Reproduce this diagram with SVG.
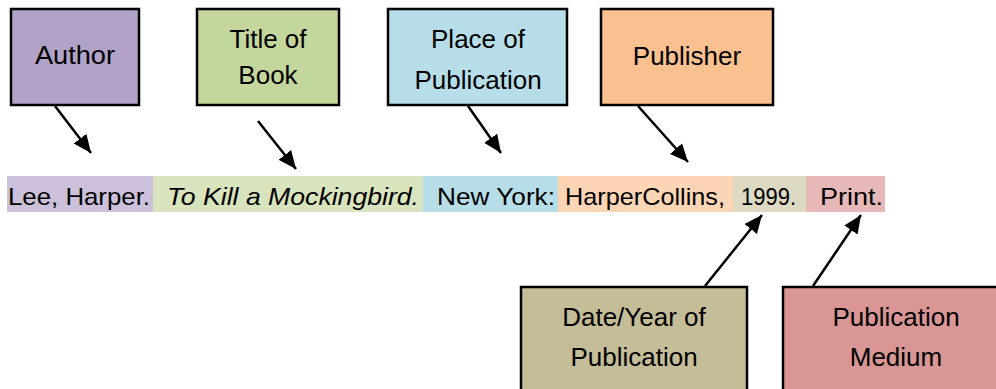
<svg xmlns="http://www.w3.org/2000/svg" width="996" height="389" viewBox="0 0 996 389">
<style>
.box{stroke:#000;stroke-width:2.5}
.lbl{font-family:"Liberation Sans",Arial,sans-serif;font-size:26px;fill:#000;text-anchor:middle}
.band{font-family:"Liberation Sans",Arial,sans-serif;font-size:24px;fill:#000}
.conn line{stroke:#000;stroke-width:2.5;marker-end:url(#ah)}
</style>
<defs>
<marker id="ah" markerUnits="userSpaceOnUse" markerWidth="20" markerHeight="20" viewBox="0 0 20 20" refX="18" refY="10" orient="auto">
<path d="M0,2 L18,10 L0,18 Z" fill="#000"/>
</marker>
</defs>
<rect width="996" height="389" fill="#fff"/>
<g id="citation">
<rect x="7" y="176" width="146" height="36" fill="#ccc0da"/>
<rect x="153" y="176" width="270" height="36" fill="#d7e4bd"/>
<rect x="423" y="176" width="135" height="36" fill="#b7dde8"/>
<rect x="558" y="176" width="175" height="36" fill="#fcd5b5"/>
<rect x="733" y="176" width="73" height="36" fill="#ddd9c3"/>
<rect x="806" y="176" width="79" height="36" fill="#e6b9b8"/>
<text class="band" x="8" y="205" textLength="142" lengthAdjust="spacingAndGlyphs">Lee, Harper.</text>
<text class="band" x="167" y="205" font-style="italic" textLength="252" lengthAdjust="spacingAndGlyphs">To Kill a Mockingbird.</text>
<text class="band" x="437" y="205" textLength="118" lengthAdjust="spacingAndGlyphs">New York:</text>
<text class="band" x="565" y="205" textLength="160" lengthAdjust="spacingAndGlyphs">HarperCollins,</text>
<text class="band" x="741" y="205" textLength="55" lengthAdjust="spacingAndGlyphs">1999.</text>
<text class="band" x="820" y="205" textLength="63" lengthAdjust="spacingAndGlyphs">Print.</text>
</g>
<g id="author"><rect class="box" x="11" y="9" width="128" height="96" fill="#b3a2c7"/><text class="lbl" x="75" y="64" textLength="80" lengthAdjust="spacingAndGlyphs">Author</text></g>
<g id="title"><rect class="box" x="197" y="9" width="142" height="96" fill="#c3d69b"/><text class="lbl" x="268" y="48">Title of</text><text class="lbl" x="268" y="84">Book</text></g>
<g id="place"><rect class="box" x="388" y="9" width="179" height="96" fill="#b7dde8"/><text class="lbl" x="478" y="48">Place of</text><text class="lbl" x="478" y="89">Publication</text></g>
<g id="publisher"><rect class="box" x="601" y="9" width="172" height="96" fill="#fac090"/><text class="lbl" x="687" y="65">Publisher</text></g>
<g id="date"><rect class="box" x="521" y="287" width="226" height="110" fill="#c4bd97"/><text class="lbl" x="634" y="326">Date/Year of</text><text class="lbl" x="634" y="366">Publication</text></g>
<g id="medium"><rect class="box" x="783" y="287" width="220" height="110" fill="#d99694"/><text class="lbl" x="896" y="326">Publication</text><text class="lbl" x="896" y="366">Medium</text></g>
<g class="conn" id="connectors">
<line x1="55" y1="106" x2="91" y2="153"/>
<line x1="258" y1="121" x2="296" y2="169"/>
<line x1="468" y1="106" x2="501" y2="153"/>
<line x1="638" y1="106" x2="688" y2="162"/>
<line x1="705" y1="286" x2="762" y2="215"/>
<line x1="813" y1="286" x2="861" y2="215"/>
</g>
</svg>
